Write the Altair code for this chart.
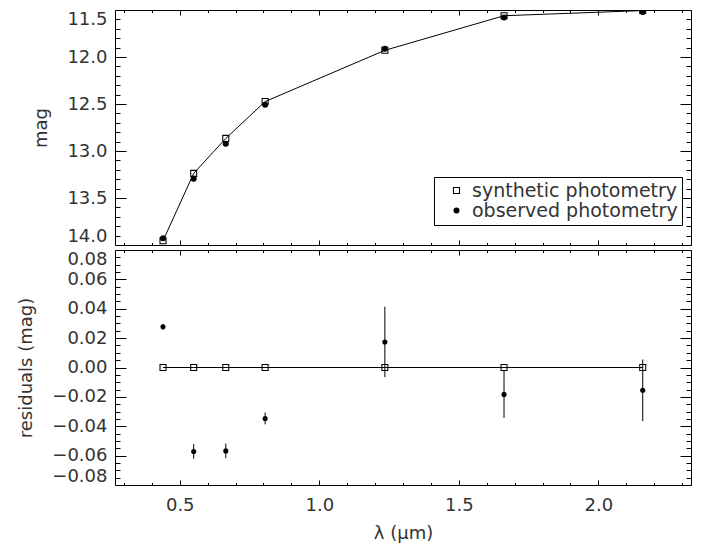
import altair as alt
import pandas as pd

# ---------------- data ----------------
bands_wl = [0.44, 0.55, 0.665, 0.806, 1.235, 1.662, 2.159]
synthetic_mag = [13.955, 13.238, 12.866, 12.474, 11.929, 11.561, 11.506]
observed_mag = [13.927, 13.295, 12.922, 12.508, 11.911, 11.579, 11.522]
synthetic_resid = [0.0, 0.0, 0.0, 0.0, 0.0, 0.0, 0.0]
observed_resid = [0.0277, -0.0572, -0.0568, -0.0347, 0.0174, -0.0183, -0.0155]
observed_resid_err = [0.002, 0.005, 0.005, 0.004, 0.024, 0.016, 0.021]

series_names = ["synthetic photometry", "observed photometry"]

x_major = [0.5, 1.0, 1.5, 2.0]
x_minor = [0.3, 0.4, 0.6, 0.7, 0.8, 0.9, 1.1, 1.2, 1.3, 1.4,
           1.6, 1.7, 1.8, 1.9, 2.1, 2.2, 2.3]
top_major = [11.5, 12.0, 12.5, 13.0, 13.5, 14.0]
top_minor = [11.6, 11.7, 11.8, 11.9, 12.1, 12.2, 12.3, 12.4,
             12.6, 12.7, 12.8, 12.9, 13.1, 13.2, 13.3, 13.4,
             13.6, 13.7, 13.8, 13.9]
bot_major = [-0.08, -0.06, -0.04, -0.02, 0.0, 0.02, 0.04, 0.06, 0.08]
bot_minor = [-0.075, -0.07, -0.065, -0.055, -0.05, -0.045,
             -0.035, -0.03, -0.025, -0.015, -0.01, -0.005,
             0.005, 0.01, 0.015, 0.025, 0.03, 0.035,
             0.045, 0.05, 0.055, 0.065, 0.07, 0.075]

# ---------------- layout / style ----------------
W, H = 576, 235
FONT = "DejaVu Sans"
TXT = "#333333"
# hollow square symbol (outer square with an inner hole)
HOLLOW_SQUARE = "M-1,-1H1V1H-1Z M-0.7,-0.7V0.7H0.7V-0.7Z"

xscale = alt.Scale(domain=[0.268, 2.332], nice=False, zero=False)
ytop = alt.Scale(domain=[11.5, 14.0], reverse=True, nice=False, zero=False)
ybot = alt.Scale(domain=[-0.08, 0.08], nice=False, zero=False)

top_pts = pd.DataFrame({
    "wl": bands_wl + bands_wl,
    "mag": synthetic_mag + observed_mag,
    "series": [series_names[0]] * len(bands_wl) + [series_names[1]] * len(bands_wl),
    "ord": [0] * len(bands_wl) + [1] * len(bands_wl),
})
syn_df = pd.DataFrame({"wl": bands_wl, "mag": synthetic_mag})
res_df = pd.DataFrame({
    "wl": bands_wl,
    "zero": synthetic_resid,
    "res": observed_resid,
    "lo": [r - e for r, e in zip(observed_resid, observed_resid_err)],
    "hi": [r + e for r, e in zip(observed_resid, observed_resid_err)],
})


def tick_axis(orient, values, size, offset):
    return alt.Axis(orient=orient, values=values, tickSize=size, offset=offset,
                    labels=False, domain=False, grid=False, title=None,
                    ticks=True, tickColor="black", tickWidth=1)


def frame_layers(df, yfield, yscale, ymaj, ymin, ylab_axis, xlab_axis):
    specs = [
        (xlab_axis, ylab_axis),
        (tick_axis("top", x_major, 5, -H), tick_axis("right", ymaj, 11, -W)),
        (tick_axis("top", x_minor, 2.5, -H), tick_axis("right", ymin, 5, -W)),
        (tick_axis("bottom", x_major, 5, -H), tick_axis("left", ymaj, 11, -W)),
        (tick_axis("bottom", x_minor, 2.5, -H), tick_axis("left", ymin, 5, -W)),
    ]
    layers = []
    for xa, ya in specs:
        layers.append(
            alt.Chart(df).mark_point(opacity=0, size=1, clip=True).encode(
                x=alt.X("wl:Q", scale=xscale, axis=xa),
                y=alt.Y(f"{yfield}:Q", scale=yscale, axis=ya),
            )
        )
    return layers


# ---------------- top panel ----------------
top_ylab = alt.Axis(orient="left", values=top_major, format=".1f", labelFlush=True,
                    ticks=False, tickSize=0, domain=False, grid=False,
                    labelPadding=8, title="mag", titlePadding=16)
top_frame = frame_layers(syn_df, "mag", ytop, top_major, top_minor, top_ylab, None)

top_line = alt.Chart(syn_df).mark_line(color="black", strokeWidth=1, clip=True).encode(
    x=alt.X("wl:Q", scale=xscale, axis=None),
    y=alt.Y("mag:Q", scale=ytop, axis=None),
)
leg = alt.Legend(title=None, orient="none", legendX=319, legendY=167, labelLimit=400)
top_points = alt.Chart(top_pts).mark_point(filled=True, color="black", opacity=1, clip=True).encode(
    x=alt.X("wl:Q", scale=xscale, axis=None),
    y=alt.Y("mag:Q", scale=ytop, axis=None),
    shape=alt.Shape("series:N", sort=series_names,
                    scale=alt.Scale(domain=series_names, range=[HOLLOW_SQUARE, "circle"]),
                    legend=leg),
    size=alt.Size("series:N", sort=series_names,
                  scale=alt.Scale(domain=series_names, range=[50, 36]),
                  legend=leg),
    order=alt.Order("ord:Q"),
)

top = alt.layer(*top_frame, top_line, top_points).resolve_axis(
    x="independent", y="independent"
).properties(width=W, height=H)

# ---------------- bottom panel ----------------
bot_ylab = alt.Axis(orient="left", values=bot_major, format=".2f", labelFlush=True,
                    ticks=False, tickSize=0, domain=False, grid=False,
                    labelPadding=8, title="residuals (mag)", titlePadding=16)
bot_xlab = alt.Axis(orient="bottom", values=x_major, format=".1f", labelFlush=False,
                    ticks=False, tickSize=0, domain=False, grid=False,
                    labelPadding=11, title="λ (μm)", titlePadding=10)
bot_frame = frame_layers(res_df, "zero", ybot, bot_major, bot_minor, bot_ylab, bot_xlab)

bx = alt.X("wl:Q", scale=xscale, axis=None)
bot_line = alt.Chart(res_df).mark_line(color="black", strokeWidth=1).encode(
    x=bx, y=alt.Y("zero:Q", scale=ybot, axis=None))
bot_err = alt.Chart(res_df).mark_rule(color="black", strokeWidth=1).encode(
    x=bx, y=alt.Y("lo:Q", scale=ybot, axis=None), y2="hi:Q")
bot_sq = alt.Chart(res_df).mark_point(shape=HOLLOW_SQUARE, filled=True, color="black",
                                      size=50, opacity=1).encode(
    x=bx, y=alt.Y("zero:Q", scale=ybot, axis=None))
bot_dot = alt.Chart(res_df).mark_circle(color="black", size=26, opacity=1).encode(
    x=bx, y=alt.Y("res:Q", scale=ybot, axis=None))

bottom = alt.layer(*bot_frame, bot_line, bot_err, bot_sq, bot_dot).resolve_axis(
    x="independent", y="independent"
).properties(width=W, height=H)

chart = alt.vconcat(top, bottom, spacing=5, bounds="flush").properties(
    padding={"left": 9, "top": 1, "right": 5, "bottom": 5}
).configure_view(
    stroke="black", strokeWidth=1
).configure_axis(
    labelFont=FONT, titleFont=FONT, labelFontSize=18, titleFontSize=18,
    labelColor=TXT, titleColor=TXT, titleFontWeight="normal"
).configure_legend(
    labelFont=FONT, labelFontSize=19, labelColor=TXT, strokeColor="black",
    padding=4, symbolOffset=9, labelOffset=6, rowPadding=0,
    fillColor="white"
)

chart.save("out.html", embed_options={"renderer": "svg", "actions": False})
